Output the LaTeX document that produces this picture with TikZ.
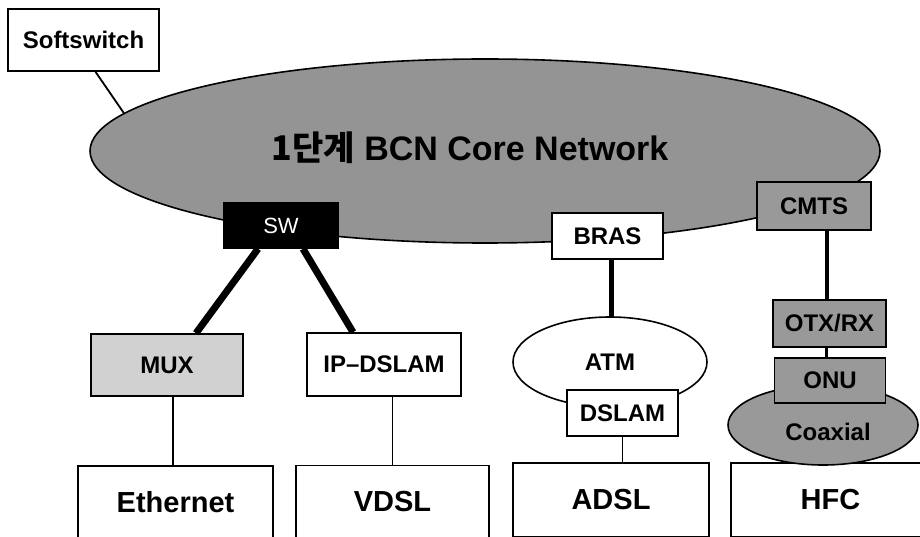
\documentclass[tikz,border=0pt]{standalone}
\usepackage{fontspec}
\setmainfont{Liberation Sans}
\newfontfamily\krfont{Noto Sans CJK KR}
\usetikzlibrary{shapes.geometric}

\begin{document}
\begin{tikzpicture}[x=1pt, y=-1pt,
	box/.style={draw, line width=1.6pt, inner sep=0pt, font=\bfseries\fontsize{24}{24}\selectfont},
	cloud/.style={draw, line width=1.6pt, ellipse, inner sep=0pt},
	access/.style={box, minimum width=195pt, minimum height=72pt, font=\bfseries\fontsize{29}{29}\selectfont},
	link/.style={line width=1.8pt},
	trunk/.style={line width=7pt}]
\useasboundingbox (0, 0) rectangle (920, 537);
\clip (0, 0) rectangle (920, 537);

\node[cloud, fill=black!42, minimum width=790pt, minimum height=184pt] (core) at (485, 151) {};
\node[font=\bfseries\fontsize{34}{34}\selectfont] (corelbl) at (470, 148)
	{{\krfont 1단계} BCN Core Network};

\node[box, fill=white, minimum width=151pt, minimum height=62pt] (soft) at (83.5, 40) {Softswitch};
\draw[link] ([xshift=12pt]soft.south) -- (core.174);

\node[box, fill=black, text=white, font=\fontsize{22}{22}\selectfont,
	minimum width=114pt, minimum height=45pt] (sw) at (281, 225.5) {SW};
\node[box, fill=white, minimum width=111pt, minimum height=46pt] (bras) at (607.5, 236) {BRAS};
\node[box, fill=black!40, minimum width=114pt, minimum height=48pt] (cmts) at (814, 206) {CMTS};

\node[box, fill=black!18, minimum width=152pt, minimum height=62pt] (mux) at (167, 365) {MUX};
\node[box, fill=white, minimum width=154pt, minimum height=63pt] (ipdslam) at (384, 364.5) {IP--DSLAM};
\draw[trunk] ([xshift=-23pt]sw.south) -- ([xshift=29pt]mux.north);
\draw[trunk] ([xshift=22pt]sw.south) -- ([xshift=-31pt]ipdslam.north);

\node[access] (eth) at (175.5, 502) {Ethernet};
\node[access, minimum width=193pt] (vdsl) at (392.5, 501.5) {VDSL};
\draw[link] ([xshift=6pt]mux.south) -- ([xshift=6pt]mux.south |- eth.north);
\draw[link] (vdsl.north |- ipdslam.south) -- (vdsl.north);

\node[cloud, fill=white, minimum width=194pt, minimum height=90pt,
	font=\bfseries\fontsize{24}{24}\selectfont] (atm) at (610, 362) {ATM};
\node[box, fill=white, minimum width=111pt, minimum height=46pt] (dslam) at (622.5, 413) {DSLAM};
\draw[line width=5pt] ([xshift=4pt]bras.south) -- ([xshift=4pt]bras.south |- atm.north);
\node[access, minimum width=196pt, minimum height=74pt] (adsl) at (611, 500) {ADSL};
\draw[link] (dslam.south) -- (dslam.south |- adsl.north);

\node[access, minimum width=199pt, minimum height=74pt] (hfc) at (830.5, 500) {HFC};
\node[cloud, fill=black!40, minimum width=190pt, minimum height=80pt] (coax) at (823, 425) {};
\node[box, fill=black!40, minimum width=113pt, minimum height=47pt] (otx) at (829.5, 323.5) {OTX/RX};
\node[box, fill=black!40, minimum width=111pt, minimum height=45pt] (onu) at (830, 380.5) {ONU};
\node[font=\bfseries\fontsize{24}{24}\selectfont] (coaxlbl) at (828, 432) {Coaxial};
\draw[line width=4pt] ([xshift=-3pt]otx.north |- cmts.south) -- ([xshift=-3pt]otx.north);
\draw[line width=3pt] ([xshift=-3pt]otx.south) -- ([xshift=-3pt]otx.south |- onu.north);

\end{tikzpicture}
\end{document}
